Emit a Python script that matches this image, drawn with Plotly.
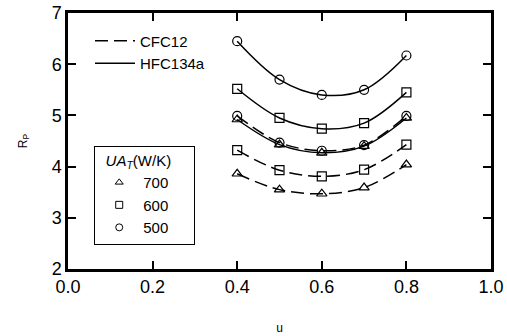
import plotly.graph_objects as go

u = [0.4, 0.5, 0.6, 0.7, 0.8]
hfc_500 = [6.45, 5.70, 5.40, 5.50, 6.17]
hfc_600 = [5.52, 4.95, 4.74, 4.85, 5.45]
hfc_700 = [4.92, 4.43, 4.27, 4.40, 4.95]
cfc_500 = [4.99, 4.47, 4.31, 4.42, 4.99]
cfc_600 = [4.32, 3.93, 3.81, 3.94, 4.43]
cfc_700 = [3.86, 3.55, 3.47, 3.59, 4.04]
ua_labels = ["700", "600", "500"]
ua_symbols = ["triangle-up-open", "square-open", "circle-open"]
xticks = [0.0, 0.2, 0.4, 0.6, 0.8, 1.0]
yticks = [2, 3, 4, 5, 6, 7]

FONT = "Liberation Sans, Arial"
DASH = "13px,6px"

fig = go.Figure()

series = [
    (hfc_500, "solid", "circle-open"),
    (hfc_600, "solid", "square-open"),
    (hfc_700, "solid", "triangle-up-open"),
    (cfc_500, DASH, "circle-open"),
    (cfc_600, DASH, "square-open"),
    (cfc_700, DASH, "triangle-up-open"),
]
for y, dash, sym in series:
    fig.add_trace(go.Scatter(
        x=u, y=y, mode="lines+markers", showlegend=False,
        line=dict(color="black", width=1.5, dash=dash, shape="spline", smoothing=1.0),
        marker=dict(symbol=sym, size=9, color="black", line=dict(width=1.2, color="black")),
        cliponaxis=False,
    ))

# legend 1: line styles
fig.add_trace(go.Scatter(x=[None], y=[None], mode="lines", name="CFC12",
                         line=dict(color="black", width=1.5, dash=DASH), legend="legend"))
fig.add_trace(go.Scatter(x=[None], y=[None], mode="lines", name="HFC134a",
                         line=dict(color="black", width=1.5), legend="legend"))

# legend 2: UA_T markers
for lab, sym in zip(ua_labels, ua_symbols):
    fig.add_trace(go.Scatter(x=[None], y=[None], mode="markers", name=lab,
                             marker=dict(symbol=sym, size=7, color="black",
                                         line=dict(width=1, color="black")),
                             legend="legend2"))

axis_common = dict(
    showgrid=False, zeroline=False, showline=True, linecolor="black", linewidth=2.5,
    mirror="ticks", ticks="inside", ticklen=8, tickwidth=1.5, tickcolor="black",
    tickfont=dict(family=FONT, size=18, color="black"), automargin=False,
)

fig.update_layout(
    width=507, height=336,
    margin=dict(l=68, r=16, t=13, b=67),
    paper_bgcolor="white", plot_bgcolor="white",
    font=dict(family=FONT, color="black"),
    xaxis=dict(range=[0, 1], tickvals=xticks, ticktext=[f"{v:.1f}" for v in xticks],
               title=dict(text="u", font=dict(family=FONT, size=12, color="black"),
                          standoff=28),
               **axis_common),
    yaxis=dict(range=[2, 7], tickvals=yticks,
               title=dict(text="R<sub>P</sub>", font=dict(family=FONT, size=12, color="black"),
                          standoff=22),
               **axis_common),
    legend=dict(x=0.052, y=0.955, xanchor="left", yanchor="top", bgcolor="rgba(0,0,0,0)",
                borderwidth=0, font=dict(family=FONT, size=15, color="black"),
                tracegroupgap=0, itemwidth=40),
    legend2=dict(x=0.062, y=0.482, xanchor="left", yanchor="top", bgcolor="white",
                 bordercolor="black", borderwidth=1,
                 title=dict(text="  <i>UA<sub>T</sub></i>(W/K)     ",
                            font=dict(family=FONT, size=15, color="black")),
                 font=dict(family=FONT, size=15, color="black"),
                 tracegroupgap=0, itemwidth=38),
)

fig.write_html("out.html")
